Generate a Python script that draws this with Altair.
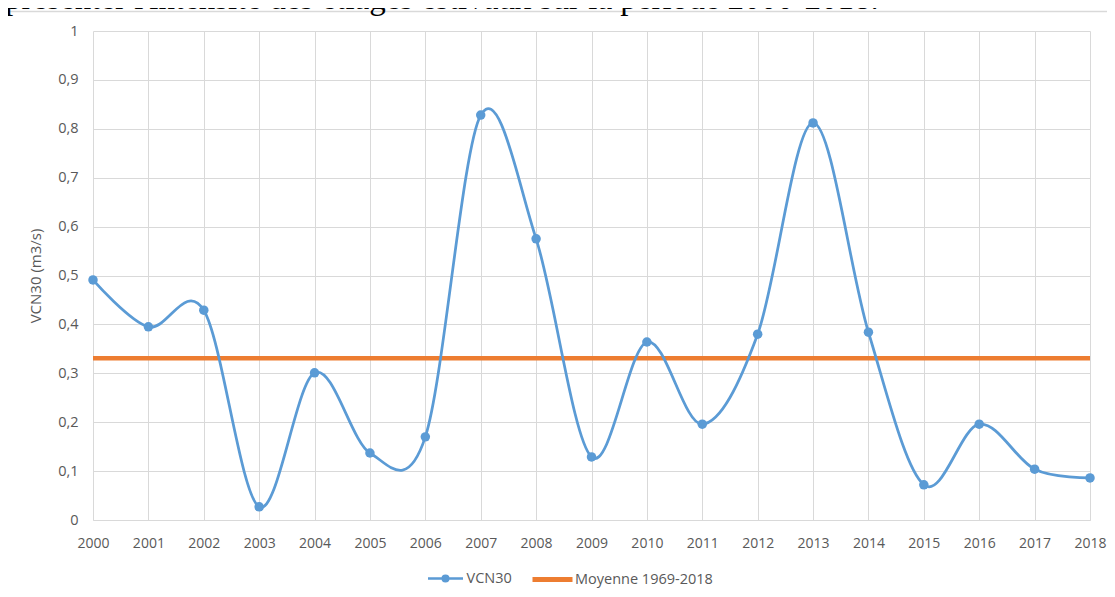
import altair as alt
import pandas as pd

# ---- data ----
years = list(range(2000, 2019))
vcn30 = [0.491, 0.395, 0.429, 0.027, 0.301, 0.137, 0.170, 0.828, 0.575, 0.129,
         0.364, 0.196, 0.380, 0.812, 0.384, 0.072, 0.196, 0.104, 0.086]
mean_value = 0.331
series_line = "VCN30"
series_mean = "Moyenne 1969-2018"
y_ticks = [0, 0.1, 0.2, 0.3, 0.4, 0.5, 0.6, 0.7, 0.8, 0.9, 1]
y_title = "VCN30 (m3/s)"
header_text = "présenter l'intensité des étiages estivaux sur la période 2000-2018."

BLUE = "#5B9BD5"
ORANGE = "#ED7D31"
GRID = "#D9D9D9"
LABEL = "#595959"
FONT = "Open Sans"

df = pd.DataFrame({"annee": years, "vcn30": vcn30, "serie": series_line})
mean_df = pd.DataFrame({"valeur": [mean_value], "serie": [series_mean]})
header_df = pd.DataFrame({"texte": [header_text]})
deco = alt.Data(values=[{"k": 1}])

x_enc = alt.X(
    "annee:Q",
    scale=alt.Scale(domain=[2000, 2018], nice=False, zero=False),
    axis=alt.Axis(values=years, format="d", title=None, grid=True, gridColor=GRID,
                  gridWidth=1, domain=True, domainColor=GRID, domainWidth=1,
                  ticks=False, labelPadding=16, labelFont=FONT, labelFontSize=14,
                  labelColor=LABEL, labelFlush=False),
)
y_axis = alt.Axis(values=y_ticks, title=y_title, grid=True, gridColor=GRID, gridWidth=1,
                  domain=False, ticks=False, labelPadding=15, labelFont=FONT,
                  labelFontSize=14.5, labelColor=LABEL,
                  labelExpr="replace(format(datum.value, '.1~f'), '.', ',')",
                  titleFont=FONT, titleFontSize=15, titleFontWeight="normal",
                  titleColor=LABEL, titlePadding=14)
y_scale = alt.Scale(domain=[0, 1], nice=False, zero=True)

line_symbol = ("M-1,0L1,0"
               "M-0.16,0A0.16,0.16,0,1,0,0.16,0A0.16,0.16,0,1,0,-0.16,0"
               "M-0.08,0A0.08,0.08,0,1,0,0.08,0A0.08,0.08,0,1,0,-0.08,0"
               "M-0.02,0A0.02,0.02,0,1,0,0.02,0A0.02,0.02,0,1,0,-0.02,0")

mean_rule = alt.Chart(mean_df).mark_rule(strokeWidth=4.5).encode(
    y=alt.Y("valeur:Q", scale=y_scale, axis=y_axis),
    color=alt.Color("serie:N", scale=alt.Scale(domain=[series_mean], range=[ORANGE]),
                    legend=alt.Legend(orient="none", legendX=437, legendY=526,
                                      title=None, padding=0, symbolType="stroke",
                                      symbolSize=1600, symbolStrokeWidth=5,
                                      labelOffset=0, labelFont=FONT, labelFontSize=14.5,
                                      labelColor=LABEL)),
)

line = alt.Chart(df).mark_line(interpolate="cardinal", tension=0, strokeWidth=2.75).encode(
    x=x_enc,
    y=alt.Y("vcn30:Q", scale=y_scale, axis=y_axis),
    color=alt.Color("serie:N", scale=alt.Scale(domain=[series_line], range=[BLUE]),
                    legend=alt.Legend(orient="none", legendX=333.5, legendY=528.5,
                                      title=None, padding=0, symbolType=line_symbol,
                                      symbolSize=1225, symbolStrokeWidth=2.5,
                                      symbolFillColor=BLUE,
                                      labelOffset=2, labelFont=FONT, labelFontSize=14.5,
                                      labelColor=LABEL)),
)

points = alt.Chart(df).mark_point(filled=True, size=90, opacity=1, color=BLUE).encode(
    x=x_enc,
    y=alt.Y("vcn30:Q", scale=y_scale, axis=y_axis),
)

top_border = alt.Chart(deco).mark_rule(color=GRID, strokeWidth=1.5).encode(
    x=alt.value(-88), x2=alt.value(1022), y=alt.value(-19.5))
left_border = alt.Chart(deco).mark_rule(color=GRID, strokeWidth=1.5).encode(
    x=alt.value(-87.5), y=alt.value(-19.5), y2=alt.value(566))

header = alt.Chart(header_df).mark_text(
    align="left", baseline="alphabetic", font="Liberation Serif", fontSize=33,
    color="#000000").encode(text="texte:N", x=alt.value(-88), y=alt.value(-22))

chart = alt.layer(top_border, left_border, header, mean_rule, line, points).resolve_scale(
    color="independent"
).properties(
    width=997, height=489,
    autosize=alt.AutoSizeParams(type="none"),
    padding={"left": 85, "top": 23, "right": 17, "bottom": 68},
).configure_view(stroke=None)

chart.save("out.html", embed_options={"renderer": "svg", "actions": False})
